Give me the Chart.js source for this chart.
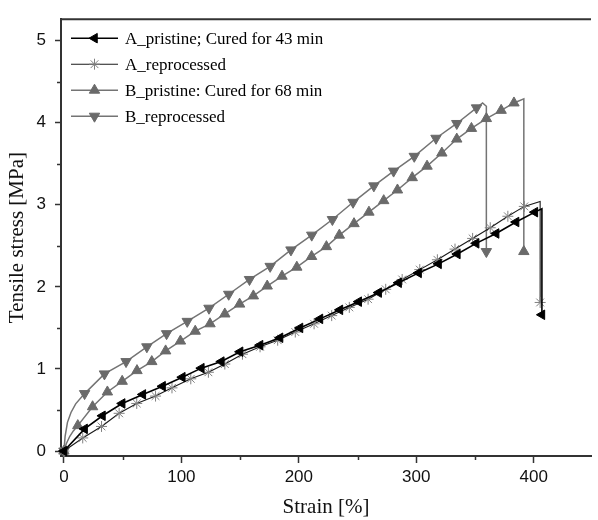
<!DOCTYPE html>
<html>
<head>
<meta charset="utf-8">
<script src="https://cdn.jsdelivr.net/npm/chart.js@4.4.0/dist/chart.umd.min.js"></script>
<style>
html,body{margin:0;padding:0;background:#fff;}
#wrap{width:598px;height:520px;position:relative;}
</style>
</head>
<body>
<div id="wrap"><canvas id="c" width="598" height="520"></canvas></div>
<script>
// ---- data ----
const seriesLabels = [
  'A_pristine; Cured for 43 min',
  'A_reprocessed',
  'B_pristine: Cured for 68 min',
  'B_reprocessed'
];

const aPristineStrain = [0, 17.6, 32.8, 49.6, 67.2, 84, 100.8, 117, 134, 150, 167, 184, 201, 218, 235, 251, 268, 285, 302, 319, 335, 351, 368, 385, 401, 407, 407];
const aPristineStress = [0, 0.27, 0.43, 0.58, 0.69, 0.79, 0.90, 1.01, 1.09, 1.21, 1.29, 1.38, 1.50, 1.61, 1.72, 1.82, 1.93, 2.05, 2.17, 2.28, 2.40, 2.53, 2.65, 2.79, 2.91, 2.95, 1.66];

const aReprocStrain = [0, 16, 32, 47, 62, 78, 92, 108, 123, 137, 152, 167, 182, 197, 213, 228, 243, 259, 274, 288, 303, 318, 333, 348, 363, 378, 392, 405.5, 405.5];
const aReprocStress = [0, 0.16, 0.30, 0.46, 0.58, 0.67, 0.77, 0.88, 0.96, 1.06, 1.18, 1.27, 1.35, 1.45, 1.55, 1.65, 1.75, 1.85, 1.97, 2.09, 2.21, 2.33, 2.46, 2.59, 2.72, 2.86, 2.98, 3.04, 1.81];

const bPristineStrain = [0, 2, 5, 8, 11.8, 24.4, 37, 49.6, 62.2, 74.8, 86.6, 99.2, 111.8, 124.4, 137, 149.6, 161.3, 173.1, 185.7, 198.3, 210.9, 223.5, 234.5, 247, 259.7, 272.3, 284, 296.6, 309.2, 321.8, 334.5, 347, 359.7, 372.3, 383.2, 391.6, 391.6];
const bPristineStress = [0, 0.09, 0.18, 0.245, 0.31, 0.54, 0.72, 0.85, 0.98, 1.09, 1.22, 1.34, 1.46, 1.55, 1.67, 1.79, 1.89, 2.01, 2.13, 2.24, 2.37, 2.49, 2.63, 2.77, 2.91, 3.05, 3.18, 3.33, 3.47, 3.63, 3.80, 3.93, 4.05, 4.15, 4.24, 4.29, 2.43];

const bReprocStrain = [0, 1, 3, 6, 10, 17.6, 34.5, 52.9, 70.6, 87.4, 105, 123.5, 140.3, 158, 175.6, 193.3, 211, 228.6, 246.2, 263.9, 280.7, 298.3, 316.8, 334.5, 351.3, 356.5, 359.7, 359.7];
const bReprocStress = [0, 0.18, 0.35, 0.47, 0.575, 0.70, 0.94, 1.09, 1.27, 1.43, 1.58, 1.74, 1.91, 2.09, 2.25, 2.45, 2.63, 2.82, 3.03, 3.23, 3.41, 3.59, 3.81, 3.99, 4.18, 4.24, 4.20, 2.43];

const xTickValues = [0, 100, 200, 300, 400];
const xMinorTickValues = [50, 150, 250, 350];
const yTickValues = [0, 1, 2, 3, 4, 5];
const yMinorTickValues = [0.5, 1.5, 2.5, 3.5, 4.5];

const xTitle = 'Strain [%]';
const yTitle = 'Tensile stress [MPa]';

// ---- build ----
function pts(xs, ys) { return xs.map((x, i) => ({x: x, y: ys[i]})); }

const styles = [
  {line: '#000000', lw: 1.6, fill: '#000000', stroke: '#000000', style: 'triangle', rot: -90, r: 5.5, bw: 1, unmarked: [aPristineStrain.length - 2]},
  {line: '#1a1a1a', lw: 1.1, fill: 'rgba(0,0,0,0)', stroke: '#808080', style: 'star', rot: 0, r: 5.5, bw: 1, unmarked: [aReprocStrain.length - 2]},
  {line: '#747474', lw: 1.5, fill: '#6a6a6a', stroke: '#6a6a6a', style: 'triangle', rot: 0, r: 6, bw: 1, unmarked: [1, 2, 3, bPristineStrain.length - 2]},
  {line: '#747474', lw: 1.5, fill: '#6a6a6a', stroke: '#6a6a6a', style: 'triangle', rot: 180, r: 6, bw: 1, unmarked: [1, 2, 3, 4, bReprocStrain.length - 3, bReprocStrain.length - 2]}
];
const seriesData = [
  pts(aPristineStrain, aPristineStress),
  pts(aReprocStrain, aReprocStress),
  pts(bPristineStrain, bPristineStress),
  pts(bReprocStrain, bReprocStress)
];

const datasets = seriesData.map((d, i) => {
  const s = styles[i];
  return {
    label: seriesLabels[i],
    data: d,
    borderColor: s.line,
    borderWidth: s.lw,
    backgroundColor: s.fill,
    pointStyle: s.style,
    pointRotation: s.rot,
    pointBackgroundColor: s.fill,
    pointBorderColor: s.stroke,
    pointBorderWidth: s.bw,
    pointRadius: ctx => s.unmarked.includes(ctx.dataIndex) ? 0 : s.r,
    pointHoverRadius: ctx => s.unmarked.includes(ctx.dataIndex) ? 0 : s.r,
    legendRadius: s.r,
    tension: 0,
    fill: false,
    clip: false,
    showLine: true
  };
});

const frameColor = '#333333';

const decorPlugin = {
  id: 'decor',
  afterDraw(chart) {
    const ctx = chart.ctx, a = chart.chartArea;
    const xs = chart.scales.x, ys = chart.scales.y;
    ctx.save();
    ctx.strokeStyle = frameColor; ctx.lineWidth = 2;
    ctx.beginPath(); ctx.moveTo(a.left - 1, a.top); ctx.lineTo(a.right, a.top); ctx.stroke();
    ctx.lineWidth = 1.5;
    xMinorTickValues.forEach(v => {
      const px = Math.round(xs.getPixelForValue(v)) + 0.5;
      ctx.beginPath(); ctx.moveTo(px, a.bottom); ctx.lineTo(px, a.bottom + 4); ctx.stroke();
    });
    yMinorTickValues.forEach(v => {
      const py = Math.round(ys.getPixelForValue(v)) + 0.5;
      ctx.beginPath(); ctx.moveTo(a.left, py); ctx.lineTo(a.left - 4, py); ctx.stroke();
    });
    ctx.restore();
  },
  afterDatasetsDraw(chart) {
    const ctx = chart.ctx, a = chart.chartArea;
    chart.data.datasets.forEach((ds, i) => {
      const y = a.top + 19 + i * 26;
      const x0 = a.left + 10, x1 = a.left + 57, xm = (x0 + x1) / 2;
      ctx.save();
      ctx.strokeStyle = ds.borderColor; ctx.lineWidth = ds.borderWidth;
      ctx.beginPath(); ctx.moveTo(x0, y); ctx.lineTo(x1, y); ctx.stroke();
      ctx.fillStyle = ds.pointBackgroundColor; ctx.strokeStyle = ds.pointBorderColor; ctx.lineWidth = ds.pointBorderWidth;
      Chart.helpers.drawPoint(ctx, {pointStyle: ds.pointStyle, rotation: ds.pointRotation, radius: ds.legendRadius, borderWidth: ds.pointBorderWidth}, xm, y);
      ctx.fillStyle = '#000';
      ctx.font = '17px "Liberation Serif"';
      ctx.textBaseline = 'middle';
      ctx.textAlign = 'left';
      ctx.fillText(ds.label, a.left + 64, y + 1);
      ctx.restore();
    });
  }
};

new Chart(document.getElementById('c'), {
  type: 'line',
  data: {datasets: datasets},
  plugins: [decorPlugin],
  options: {
    responsive: false,
    animation: false,
    devicePixelRatio: 1,
    layout: {padding: {top: 12, right: 0, bottom: 0, left: 0}},
    plugins: {legend: {display: false}, tooltip: {enabled: false}},
    scales: {
      x: {
        type: 'linear',
        min: -2.5,
        max: 448.8,
        afterBuildTicks: s => { s.ticks = xTickValues.map(v => ({value: v})); },
        afterFit: s => { s.height = 64; },
        grid: {drawOnChartArea: false, drawTicks: true, tickLength: 7, tickColor: frameColor, tickWidth: 1.5},
        border: {display: true, color: frameColor, width: 2},
        ticks: {color: '#111', font: {family: '"Liberation Sans"', size: 17}, padding: 4, maxRotation: 0, autoSkip: false},
        title: {display: true, text: xTitle, color: '#111', font: {family: '"Liberation Serif"', size: 21}, padding: {top: 0, bottom: 0}}
      },
      y: {
        type: 'linear',
        min: -0.06,
        max: 5.26,
        afterBuildTicks: s => { s.ticks = yTickValues.map(v => ({value: v})); },
        afterFit: s => { s.width = 61; },
        grid: {drawOnChartArea: false, drawTicks: true, tickLength: 6, tickColor: frameColor, tickWidth: 1.5},
        border: {display: true, color: frameColor, width: 2},
        ticks: {color: '#111', font: {family: '"Liberation Sans"', size: 17}, padding: 9, autoSkip: false},
        title: {display: true, text: yTitle, color: '#111', font: {family: '"Liberation Serif"', size: 21}, padding: {top: 5, bottom: 0}}
      }
    }
  }
});
</script>
</body>
</html>
